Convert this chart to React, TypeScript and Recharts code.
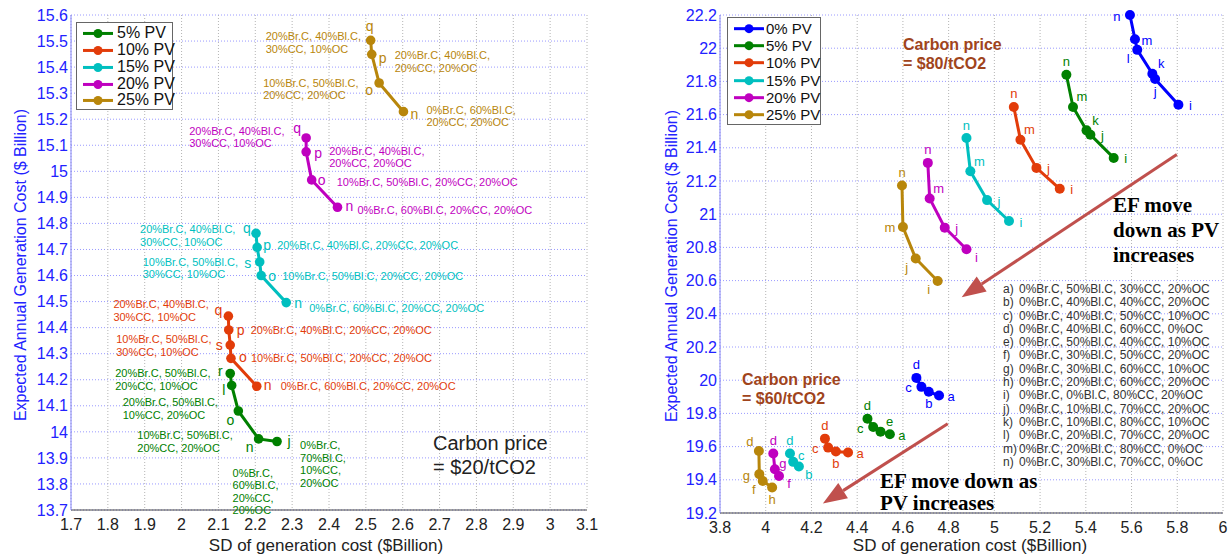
import React from 'react';
import { ScatterChart, Scatter, XAxis, YAxis, CartesianGrid, ReferenceLine } from 'recharts';

const FONT = '"Liberation Sans", Arial, Helvetica, sans-serif';
const SERIF = '"Liberation Serif", "Times New Roman", serif';

// ---------- shared ----------
const PV_NAMES = ['0% PV', '5% PV', '10% PV', '15% PV', '20% PV', '25% PV'];
const PV_COLORS = ['#0000ff', '#008000', '#e23c0a', '#00bfbf', '#bf00bf', '#b8860b'];

// ---------- left panel: carbon price $20/tCO2 ----------
const L_X_TICKS = [1.7, 1.8, 1.9, 2.0, 2.1, 2.2, 2.3, 2.4, 2.5, 2.6, 2.7, 2.8, 2.9, 3.0, 3.1];
const L_Y_TICKS = [13.7, 13.8, 13.9, 14.0, 14.1, 14.2, 14.3, 14.4, 14.5, 14.6, 14.7, 14.8, 14.9, 15.0, 15.1, 15.2, 15.3, 15.4, 15.5, 15.6];

const L5_ID = ['r', 'l', 'o', 'n', 'j'];
const L5_SD = [2.132, 2.136, 2.154, 2.209, 2.259];
const L5_COST = [14.224, 14.178, 14.08, 13.973, 13.963];
const L5_MIX = [
  '20%Br.C, 50%Bl.C,\n20%CC, 10%OC',
  '20%Br.C, 50%Bl.C,\n10%CC, 20%OC',
  '10%Br.C, 50%Bl.C,\n20%CC, 20%OC',
  '0%Br.C,\n60%Bl.C,\n20%CC,\n20%OC',
  '0%Br.C,\n70%Bl.C,\n10%CC,\n20%OC',
];

const L10_ID = ['q', 'p', 's', 'o', 'n'];
const L10_SD = [2.127, 2.128, 2.132, 2.134, 2.204];
const L10_COST = [14.444, 14.391, 14.333, 14.282, 14.175];
const L10_MIX = [
  '20%Br.C, 40%Bl.C,\n30%CC, 10%OC',
  '20%Br.C, 40%Bl.C, 20%CC, 20%OC',
  '10%Br.C, 50%Bl.C,\n30%CC, 10%OC',
  '10%Br.C, 50%Bl.C, 20%CC, 20%OC',
  '0%Br.C, 60%Bl.C, 20%CC, 20%OC',
];

const L15_ID = ['q', 'p', 's', 'o', 'n'];
const L15_SD = [2.202, 2.205, 2.212, 2.216, 2.284];
const L15_COST = [14.762, 14.708, 14.652, 14.6, 14.496];
const L15_MIX = L10_MIX;

const L20_ID = ['q', 'p', 'o', 'n'];
const L20_SD = [2.338, 2.338, 2.353, 2.423];
const L20_COST = [15.128, 15.075, 14.967, 14.862];
const L20_MIX = [
  '20%Br.C, 40%Bl.C,\n30%CC, 10%OC',
  '20%Br.C, 40%Bl.C,\n20%CC, 20%OC',
  '10%Br.C, 50%Bl.C, 20%CC, 20%OC',
  '0%Br.C, 60%Bl.C, 20%CC, 20%OC',
];

const L25_ID = ['q', 'p', 'o', 'n'];
const L25_SD = [2.513, 2.516, 2.536, 2.602];
const L25_COST = [15.503, 15.449, 15.339, 15.229];
const L25_MIX = [
  '20%Br.C, 40%Bl.C,\n30%CC, 10%OC',
  '20%Br.C, 40%Bl.C,\n20%CC, 20%OC',
  '10%Br.C, 50%Bl.C,\n20%CC, 20%OC',
  '0%Br.C, 60%Bl.C,\n20%CC, 20%OC',
];

// ---------- right panel: carbon price $80 and $60/tCO2 ----------
const R_X_TICKS = [3.8, 4.0, 4.2, 4.4, 4.6, 4.8, 5.0, 5.2, 5.4, 5.6, 5.8, 6.0];
const R_Y_TICKS = [19.2, 19.4, 19.6, 19.8, 20.0, 20.2, 20.4, 20.6, 20.8, 21.0, 21.2, 21.4, 21.6, 21.8, 22.0, 22.2];

const R80_0_ID = ['n', 'm', 'l', 'k', 'j', 'i'];
const R80_0_SD = [5.593, 5.615, 5.625, 5.691, 5.703, 5.805];
const R80_0_COST = [22.2, 22.054, 21.99, 21.846, 21.814, 21.659];
const R80_5_ID = ['n', 'm', 'k', 'j', 'i'];
const R80_5_SD = [5.315, 5.344, 5.403, 5.42, 5.522];
const R80_5_COST = [21.84, 21.646, 21.505, 21.479, 21.339];
const R80_10_ID = ['n', 'm', 'j', 'i'];
const R80_10_SD = [5.085, 5.114, 5.184, 5.286];
const R80_10_COST = [21.646, 21.449, 21.279, 21.153];
const R80_15_ID = ['n', 'm', 'j', 'i'];
const R80_15_SD = [4.878, 4.895, 4.968, 5.064];
const R80_15_COST = [21.459, 21.259, 21.085, 20.959];
const R80_20_ID = ['n', 'm', 'j', 'i'];
const R80_20_SD = [4.709, 4.717, 4.783, 4.878];
const R80_20_COST = [21.309, 21.095, 20.919, 20.789];
const R80_25_ID = ['n', 'm', 'j', 'i'];
const R80_25_SD = [4.596, 4.6, 4.656, 4.752];
const R80_25_COST = [21.173, 20.923, 20.733, 20.598];

const R60_0_ID = ['d', 'c', 'b', 'a'];
const R60_0_SD = [4.659, 4.681, 4.713, 4.758];
const R60_0_COST = [20.014, 19.96, 19.93, 19.908];
const R60_5_ID = ['d', 'c', 'e', 'a'];
const R60_5_SD = [4.445, 4.47, 4.502, 4.543];
const R60_5_COST = [19.768, 19.718, 19.69, 19.674];
const R60_10_ID = ['d', 'c', 'b', 'a'];
const R60_10_SD = [4.259, 4.273, 4.307, 4.36];
const R60_10_COST = [19.648, 19.594, 19.57, 19.564];
const R60_15_ID = ['d', 'c', 'b'];
const R60_15_SD = [4.106, 4.12, 4.145];
const R60_15_COST = [19.558, 19.508, 19.48];
const R60_20_ID = ['d', 'g', 'f'];
const R60_20_SD = [4.033, 4.04, 4.058];
const R60_20_COST = [19.558, 19.464, 19.423];
const R60_25_ID = ['d', 'g', 'f', 'h'];
const R60_25_SD = [3.97, 3.972, 3.987, 4.028];
const R60_25_COST = [19.574, 19.434, 19.393, 19.354];

const MIX_KEYS = ['a)', 'b)', 'c)', 'd)', 'e)', 'f)', 'g)', 'h)', 'i)', 'j)', 'k)', 'l)', 'm)', 'n)'];
const MIX_TEXT = [
  '0%Br.C, 50%Bl.C, 30%CC, 20%OC',
  '0%Br.C, 40%Bl.C, 40%CC, 20%OC',
  '0%Br.C, 40%Bl.C, 50%CC, 10%OC',
  '0%Br.C, 40%Bl.C, 60%CC, 0%OC',
  '0%Br.C, 50%Bl.C, 40%CC, 10%OC',
  '0%Br.C, 30%Bl.C, 50%CC, 20%OC',
  '0%Br.C, 30%Bl.C, 60%CC, 10%OC',
  '0%Br.C, 20%Bl.C, 60%CC, 20%OC',
  '0%Br.C, 0%Bl.C, 80%CC, 20%OC',
  '0%Br.C, 10%Bl.C, 70%CC, 20%OC',
  '0%Br.C, 10%Bl.C, 80%CC, 10%OC',
  '0%Br.C, 20%Bl.C, 70%CC, 20%OC',
  '0%Br.C, 20%Bl.C, 80%CC, 0%OC',
  '0%Br.C, 30%Bl.C, 70%CC, 0%OC',
];

// arrow ends (sd, cost)
const ARROW_80 = [{ x: 5.798, y: 21.359 }, { x: 4.857, y: 20.5 }];
const ARROW_60 = [{ x: 4.796, y: 19.737 }, { x: 4.25, y: 19.257 }];

// ---------- helpers ----------
type Pt = { id: string; sd: number; cost: number; mix?: string };
const build = (ids: string[], sd: number[], cost: number[], mix?: string[]): Pt[] =>
  ids.map((id, i) => ({ id, sd: sd[i], cost: cost[i], mix: mix ? mix[i] : undefined }));

const fmt = (v: number) => String(Number(v.toFixed(1)));

const LEFT_SERIES = [
  { key: '5', color: PV_COLORS[1], data: build(L5_ID, L5_SD, L5_COST, L5_MIX) },
  { key: '10', color: PV_COLORS[2], data: build(L10_ID, L10_SD, L10_COST, L10_MIX) },
  { key: '15', color: PV_COLORS[3], data: build(L15_ID, L15_SD, L15_COST, L15_MIX) },
  { key: '20', color: PV_COLORS[4], data: build(L20_ID, L20_SD, L20_COST, L20_MIX) },
  { key: '25', color: PV_COLORS[5], data: build(L25_ID, L25_SD, L25_COST, L25_MIX) },
];

const RIGHT_SERIES = [
  { key: '80-0', color: PV_COLORS[0], data: build(R80_0_ID, R80_0_SD, R80_0_COST) },
  { key: '80-5', color: PV_COLORS[1], data: build(R80_5_ID, R80_5_SD, R80_5_COST) },
  { key: '80-10', color: PV_COLORS[2], data: build(R80_10_ID, R80_10_SD, R80_10_COST) },
  { key: '80-15', color: PV_COLORS[3], data: build(R80_15_ID, R80_15_SD, R80_15_COST) },
  { key: '80-20', color: PV_COLORS[4], data: build(R80_20_ID, R80_20_SD, R80_20_COST) },
  { key: '80-25', color: PV_COLORS[5], data: build(R80_25_ID, R80_25_SD, R80_25_COST) },
  { key: '60-0', color: PV_COLORS[0], data: build(R60_0_ID, R60_0_SD, R60_0_COST) },
  { key: '60-5', color: PV_COLORS[1], data: build(R60_5_ID, R60_5_SD, R60_5_COST) },
  { key: '60-10', color: PV_COLORS[2], data: build(R60_10_ID, R60_10_SD, R60_10_COST) },
  { key: '60-15', color: PV_COLORS[3], data: build(R60_15_ID, R60_15_SD, R60_15_COST) },
  { key: '60-20', color: PV_COLORS[4], data: build(R60_20_ID, R60_20_SD, R60_20_COST) },
  { key: '60-25', color: PV_COLORS[5], data: build(R60_25_ID, R60_25_SD, R60_25_COST) },
];

// label placement (pixel offsets from the marker): l = letter, t = composition text
const LEFT_LAYOUT: Record<string, { l: number[]; t: number[] }> = {
  '25:q': { l: [-1, -14], t: [-105, -4] },
  '25:p': { l: [11, 4], t: [23, 1] },
  '25:o': { l: [-10, 7], t: [-116, 0] },
  '25:n': { l: [11, 2], t: [23, -2] },
  '20:q': { l: [-9, -10], t: [-117, -7] },
  '20:p': { l: [12, 1], t: [23, -1] },
  '20:o': { l: [10, 0], t: [25, 2] },
  '20:n': { l: [12, -1], t: [20, 3] },
  '15:q': { l: [-9, -5], t: [-116, -4] },
  '15:p': { l: [10, -2], t: [20, -2] },
  '15:s': { l: [-12, 1], t: [-117, 0] },
  '15:o': { l: [11, 0], t: [21, 0] },
  '15:n': { l: [12, 0], t: [23, 5] },
  '10:q': { l: [-10, -6], t: [-115, -12] },
  '10:p': { l: [12, 0], t: [22, 0] },
  '10:s': { l: [-11, 0], t: [-114, -6] },
  '10:o': { l: [12, -1], t: [20, 0] },
  '10:n': { l: [11, -1], t: [24, 0] },
  '5:r': { l: [-10, -2], t: [-115, 0] },
  '5:l': { l: [-8, 5], t: [-109, 17] },
  '5:o': { l: [-8, 9], t: [-101, 24] },
  '5:n': { l: [-9, 8], t: [-26, 34] },
  '5:j': { l: [12, 0], t: [23, 4] },
};

const DIR: Record<string, number[]> = {
  N: [0, -13], S: [0, 12], E: [12, 1], W: [-13, 1],
  NE: [9, -10], NW: [-9, -9], SE: [10, 8], SW: [-9, 9], ENE: [8, -6],
};
const RIGHT_DIRS: Record<string, string[]> = {
  '80-0': ['W', 'E', 'SW', 'NE', 'S', 'E'],
  '80-5': ['N', 'NE', 'NE', 'E', 'E'],
  '80-10': ['N', 'NE', 'E', 'E'],
  '80-15': ['N', 'NE', 'E', 'E'],
  '80-20': ['N', 'NE', 'E', 'SE'],
  '80-25': ['N', 'W', 'SW', 'SW'],
  '60-0': ['N', 'W', 'S', 'E'],
  '60-5': ['N', 'W', 'NE', 'E'],
  '60-10': ['N', 'W', 'S', 'E'],
  '60-15': ['N', 'ENE', 'SE'],
  '60-20': ['N', 'ENE', 'SE'],
  '60-25': ['NW', 'W', 'SW', 'S'],
};

const leftShape = (key: string, color: string) => (p: any) => {
  const { cx, cy, payload } = p;
  const lay = LEFT_LAYOUT[`${key}:${payload.id}`] || { l: [11, 0], t: [22, 0] };
  const lines: string[] = (payload.mix || '').split('\n');
  return (
    <g>
      <circle cx={cx} cy={cy} r={4.8} fill={color} />
      <text x={cx + lay.l[0]} y={cy + lay.l[1]} fill={color} fontSize={14} fontFamily={FONT}
        textAnchor="middle" dominantBaseline="central">{payload.id}</text>
      {lines.map((ln, i) => (
        <text key={i} x={cx + lay.t[0]} y={cy + lay.t[1] + i * 12.5} fill={color} fontSize={11}
          fontFamily={FONT} dominantBaseline="central">{ln}</text>
      ))}
    </g>
  );
};

const rightShape = (key: string, color: string) => (p: any) => {
  const { cx, cy, payload, index } = p;
  const code = (RIGHT_DIRS[key] || [])[index] || 'E';
  const d = DIR[code];
  return (
    <g>
      <circle cx={cx} cy={cy} r={5} fill={color} />
      <text x={cx + d[0]} y={cy + d[1]} fill={color} fontSize={13} fontFamily={FONT}
        textAnchor="middle" dominantBaseline="central">{payload.id}</text>
    </g>
  );
};

const Arrow = (p: any) => {
  const { x1, y1, x2, y2 } = p;
  const ang = Math.atan2(y2 - y1, x2 - x1);
  const len = 24, half = 9;
  const bx = x2 - len * Math.cos(ang), by = y2 - len * Math.sin(ang);
  const nx = -Math.sin(ang), ny = Math.cos(ang);
  return (
    <g>
      <line x1={x1} y1={y1} x2={bx} y2={by} stroke="#c0504d" strokeWidth={3} />
      <polygon points={`${x2},${y2} ${bx + nx * half},${by + ny * half} ${bx - nx * half},${by - ny * half}`} fill="#c0504d" />
    </g>
  );
};

function Legend({ names, colors, left, top, width, height, first, step, fontSize, textX }: any) {
  return (
    <div style={{ position: 'absolute', left, top, width, height, border: '1px solid #666', background: '#fff', boxSizing: 'border-box' }}>
      {names.map((n: string, i: number) => (
        <div key={n} style={{ position: 'absolute', left: 0, top: first + i * step - step / 2, height: step, width: '100%' }}>
          <svg width={32} height={step} style={{ position: 'absolute', left: 5, top: 0 }}>
            <line x1={1} x2={31} y1={step / 2} y2={step / 2} stroke={colors[i]} strokeWidth={3} />
            <circle cx={16} cy={step / 2} r={4.5} fill={colors[i]} />
          </svg>
          <span style={{ position: 'absolute', left: textX, top: 0, lineHeight: `${step}px`, fontSize, fontFamily: FONT, color: '#111', whiteSpace: 'nowrap' }}>{n}</span>
        </div>
      ))}
    </div>
  );
}

const abs = (left: number, top: number, extra: any = {}) => ({ position: 'absolute' as const, left, top, whiteSpace: 'nowrap' as const, ...extra });

export default function App() {
  const gridH = { stroke: '#9a9aff', strokeDasharray: '1 2' };
  const gridV = { stroke: '#b4b4b4', strokeDasharray: '1 2' };
  return (
    <div style={{ position: 'absolute', left: 0, top: 0, width: 1230, height: 555, background: '#fff', overflow: 'hidden' }}>
      {/* left panel */}
      <div style={{ position: 'absolute', left: 0, top: 0 }}>
        <ScatterChart width={600} height={555} margin={{ top: 15, right: 13, bottom: 15, left: 21 }}>
          <CartesianGrid vertical={false} {...gridH} />
          <CartesianGrid horizontal={false} {...gridV} />
          <XAxis type="number" dataKey="sd" domain={[1.7, 3.1]} ticks={L_X_TICKS} interval={0} tickFormatter={fmt}
            tick={{ fill: '#222', fontSize: 16, fontFamily: FONT }} tickLine={false} tickSize={7} tickMargin={2}
            axisLine={{ stroke: '#444' }} height={30} />
          <YAxis type="number" dataKey="cost" domain={[13.7, 15.6]} ticks={L_Y_TICKS} interval={0} tickFormatter={fmt}
            tick={{ fill: '#2222ff', fontSize: 16, fontFamily: FONT }} tickLine={false} tickSize={3} tickMargin={0}
            axisLine={{ stroke: '#8080ff' }} width={50} />
          {LEFT_SERIES.map((s) => (
            <Scatter key={s.key} data={s.data} fill={s.color} line={{ stroke: s.color, strokeWidth: 3 }}
              shape={leftShape(s.key, s.color)} isAnimationActive={false} />
          ))}
        </ScatterChart>
      </div>

      {/* right panel */}
      <div style={{ position: 'absolute', left: 610, top: 0 }}>
        <ScatterChart width={620} height={555} margin={{ top: 15, right: 7, bottom: 12, left: 60 }}>
          <CartesianGrid vertical={false} {...gridH} />
          <CartesianGrid horizontal={false} {...gridV} />
          <XAxis type="number" dataKey="sd" domain={[3.8, 6]} ticks={R_X_TICKS} interval={0} tickFormatter={fmt}
            tick={{ fill: '#222', fontSize: 16, fontFamily: FONT }} tickLine={false} tickSize={7} tickMargin={2}
            axisLine={{ stroke: '#444' }} height={30} />
          <YAxis type="number" dataKey="cost" domain={[19.2, 22.2]} ticks={R_Y_TICKS} interval={0} tickFormatter={fmt}
            tick={{ fill: '#2222ff', fontSize: 16, fontFamily: FONT }} tickLine={false} tickSize={3} tickMargin={0}
            axisLine={{ stroke: '#8080ff' }} width={50} />
          <ReferenceLine segment={ARROW_80} shape={Arrow} />
          <ReferenceLine segment={ARROW_60} shape={Arrow} />
          {RIGHT_SERIES.map((s) => (
            <Scatter key={s.key} data={s.data} fill={s.color} line={{ stroke: s.color, strokeWidth: 3 }}
              shape={rightShape(s.key, s.color)} isAnimationActive={false} />
          ))}
        </ScatterChart>
      </div>

      {/* axis titles */}
      <div style={abs(21, 265, { transform: 'translate(-50%,-50%) rotate(-90deg)', fontSize: 16, fontFamily: FONT, color: '#2222ff' })}>
        Expected Annual Generation Cost ($ Billion)
      </div>
      <div style={abs(672, 266, { transform: 'translate(-50%,-50%) rotate(-90deg)', fontSize: 16, fontFamily: FONT, color: '#2222ff' })}>
        Expected Annual Generation Cost ($ Billion)
      </div>
      <div style={abs(326, 545, { transform: 'translate(-50%,-50%)', fontSize: 17, lineHeight: '17px', fontFamily: FONT, color: '#222' })}>
        SD of generation cost ($Billion)
      </div>
      <div style={abs(970, 545, { transform: 'translate(-50%,-50%)', fontSize: 17, lineHeight: '17px', fontFamily: FONT, color: '#222' })}>
        SD of generation cost ($Billion)
      </div>

      {/* legends */}
      <Legend names={PV_NAMES.slice(1)} colors={PV_COLORS.slice(1)} left={76} top={22} width={97} height={88}
        first={10.3} step={16.9} fontSize={16} textX={40} />
      <Legend names={PV_NAMES} colors={PV_COLORS} left={727} top={17} width={94} height={108}
        first={10.3} step={17.35} fontSize={15} textX={38} />

      {/* annotations */}
      <div style={abs(433, 431, { fontSize: 20, fontFamily: FONT, color: '#222', lineHeight: '24px' })}>
        Carbon price<br />= $20/tCO2
      </div>
      <div style={abs(903, 36, { fontSize: 16, fontWeight: 'bold', fontFamily: FONT, color: '#a0441c', lineHeight: '18.5px' })}>
        Carbon price<br />= $80/tCO2
      </div>
      <div style={abs(742, 371, { fontSize: 16, fontWeight: 'bold', fontFamily: FONT, color: '#a0441c', lineHeight: '18.5px' })}>
        Carbon price<br />= $60/tCO2
      </div>
      <div style={abs(1113, 193, { fontSize: 21, fontWeight: 'bold', fontFamily: SERIF, color: '#000', lineHeight: '25px' })}>
        EF move<br />down as PV<br />increases
      </div>
      <div style={abs(880, 470, { fontSize: 21, fontWeight: 'bold', fontFamily: SERIF, color: '#000', lineHeight: '22px' })}>
        EF move down as<br />PV increases
      </div>

      {/* composition key */}
      <div style={abs(1003, 283, { fontSize: 12, fontFamily: FONT, color: '#333' })}>
        {MIX_KEYS.map((k, i) => (
          <div key={k} style={{ height: 13.3, lineHeight: '13.3px' }}>
            <span style={{ display: 'inline-block', width: 16 }}>{k}</span>
            {MIX_TEXT[i]}
          </div>
        ))}
      </div>
    </div>
  );
}
